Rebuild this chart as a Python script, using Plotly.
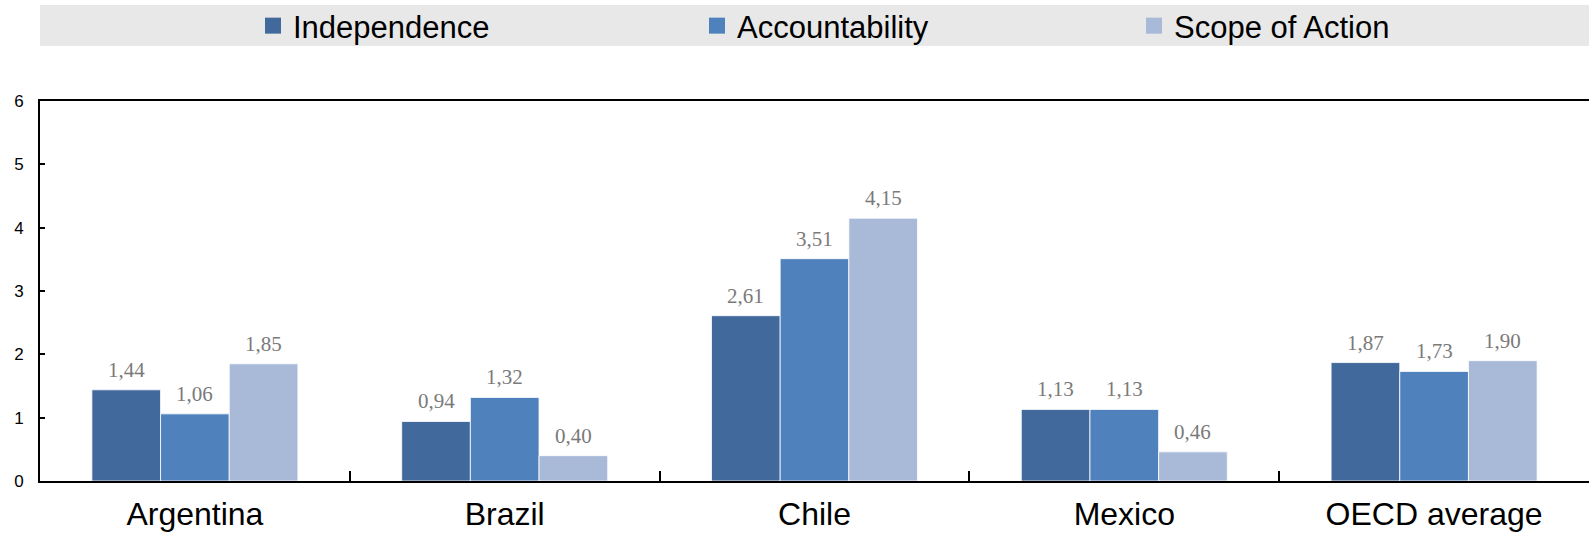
import plotly.graph_objects as go

# Data
categories = ["Argentina", "Brazil", "Chile", "Mexico", "OECD average"]
independence = [1.44, 0.94, 2.61, 1.13, 1.87]
accountability = [1.06, 1.32, 3.51, 1.13, 1.73]
scope_of_action = [1.85, 0.40, 4.15, 0.46, 1.90]
series_names = ["Independence", "Accountability", "Scope of Action"]
y_ticks = [0, 1, 2, 3, 4, 5, 6]

colors = ["#41699B", "#4F81BD", "#A9B9D8"]
series_values = [independence, accountability, scope_of_action]

W, H = 1589, 534
M_L, M_R, M_T, M_B = 40, 0, 101, 53
BARGAP = 0.335
bar_w = (1 - BARGAP) / 3

fig = go.Figure()

for k, (name, vals) in enumerate(zip(series_names, series_values)):
    fig.add_trace(go.Bar(
        x=categories, y=vals, name=name,
        marker=dict(color=colors[k], line=dict(color="white", width=0.8)),
        showlegend=False,
    ))
    # legend proxy with a larger square swatch
    fig.add_trace(go.Scatter(
        x=[None], y=[None], mode="markers", name=name,
        marker=dict(symbol="square", size=18, color=colors[k]),
        legend="legend" if k == 0 else f"legend{k + 1}",
        showlegend=True,
    ))

# value labels above bars
annotations = []
for k, vals in enumerate(series_values):
    for i, v in enumerate(vals):
        annotations.append(dict(
            x=i + (k - 1) * bar_w, y=v, xref="x", yref="y",
            text=f"{v:.2f}".replace(".", ","), showarrow=False,
            yanchor="middle", yshift=20,
            font=dict(family="Liberation Serif, Georgia, serif", size=21, color="#7A7A7A"),
        ))

legend_font = dict(family="Liberation Sans Narrow, Arial Narrow, Liberation Sans, Arial", size=31, color="#000000")
legend_x = [253, 697, 1134]
legend_common = dict(
    orientation="h", xref="container", yref="container",
    yanchor="middle", xanchor="left", y=1 - 26 / H,
    bgcolor="rgba(0,0,0,0)", font=legend_font, itemclick=False,
)

plot_h = H - M_T - M_B
plot_w = W - M_L - M_R

fig.update_layout(
    width=W, height=H,
    margin=dict(l=M_L, r=M_R, t=M_T, b=M_B, autoexpand=False),
    paper_bgcolor="white", plot_bgcolor="white",
    barmode="group", bargap=BARGAP, bargroupgap=0,
    separators=", ",
    annotations=annotations,
    legend=dict(x=legend_x[0] / W, **legend_common),
    legend2=dict(x=legend_x[1] / W, **legend_common),
    legend3=dict(x=legend_x[2] / W, **legend_common),
    shapes=[
        # legend band
        dict(type="rect", xref="paper", yref="paper", layer="below",
             x0=(40 - M_L) / plot_w, x1=(W - M_L) / plot_w,
             y0=(H - M_B - 46) / plot_h, y1=(H - M_B - 5) / plot_h,
             fillcolor="#E8E8E8", line=dict(width=0)),
    ],
    xaxis=dict(
        type="category", showgrid=False, automargin=False,
        showline=True, linecolor="#000000", linewidth=2, mirror=True,
        ticks="inside", tickson="boundaries", ticklen=10, tickwidth=1.5, tickcolor="#000000",
        tickfont=dict(family="Liberation Sans Narrow, Arial Narrow, Liberation Sans, Arial", size=32, color="#000000"),
        ticklabelstandoff=4,
    ),
    yaxis=dict(
        range=[0, 6], tickvals=y_ticks, showgrid=False, zeroline=False, automargin=False,
        showline=True, linecolor="#000000", linewidth=2,
        ticks="inside", ticklen=5, tickwidth=1.5, tickcolor="#000000",
        tickfont=dict(family="Liberation Sans, Arial", size=17, color="#000000"),
        ticklabelstandoff=11,
    ),
)

fig.write_html("out.html")
